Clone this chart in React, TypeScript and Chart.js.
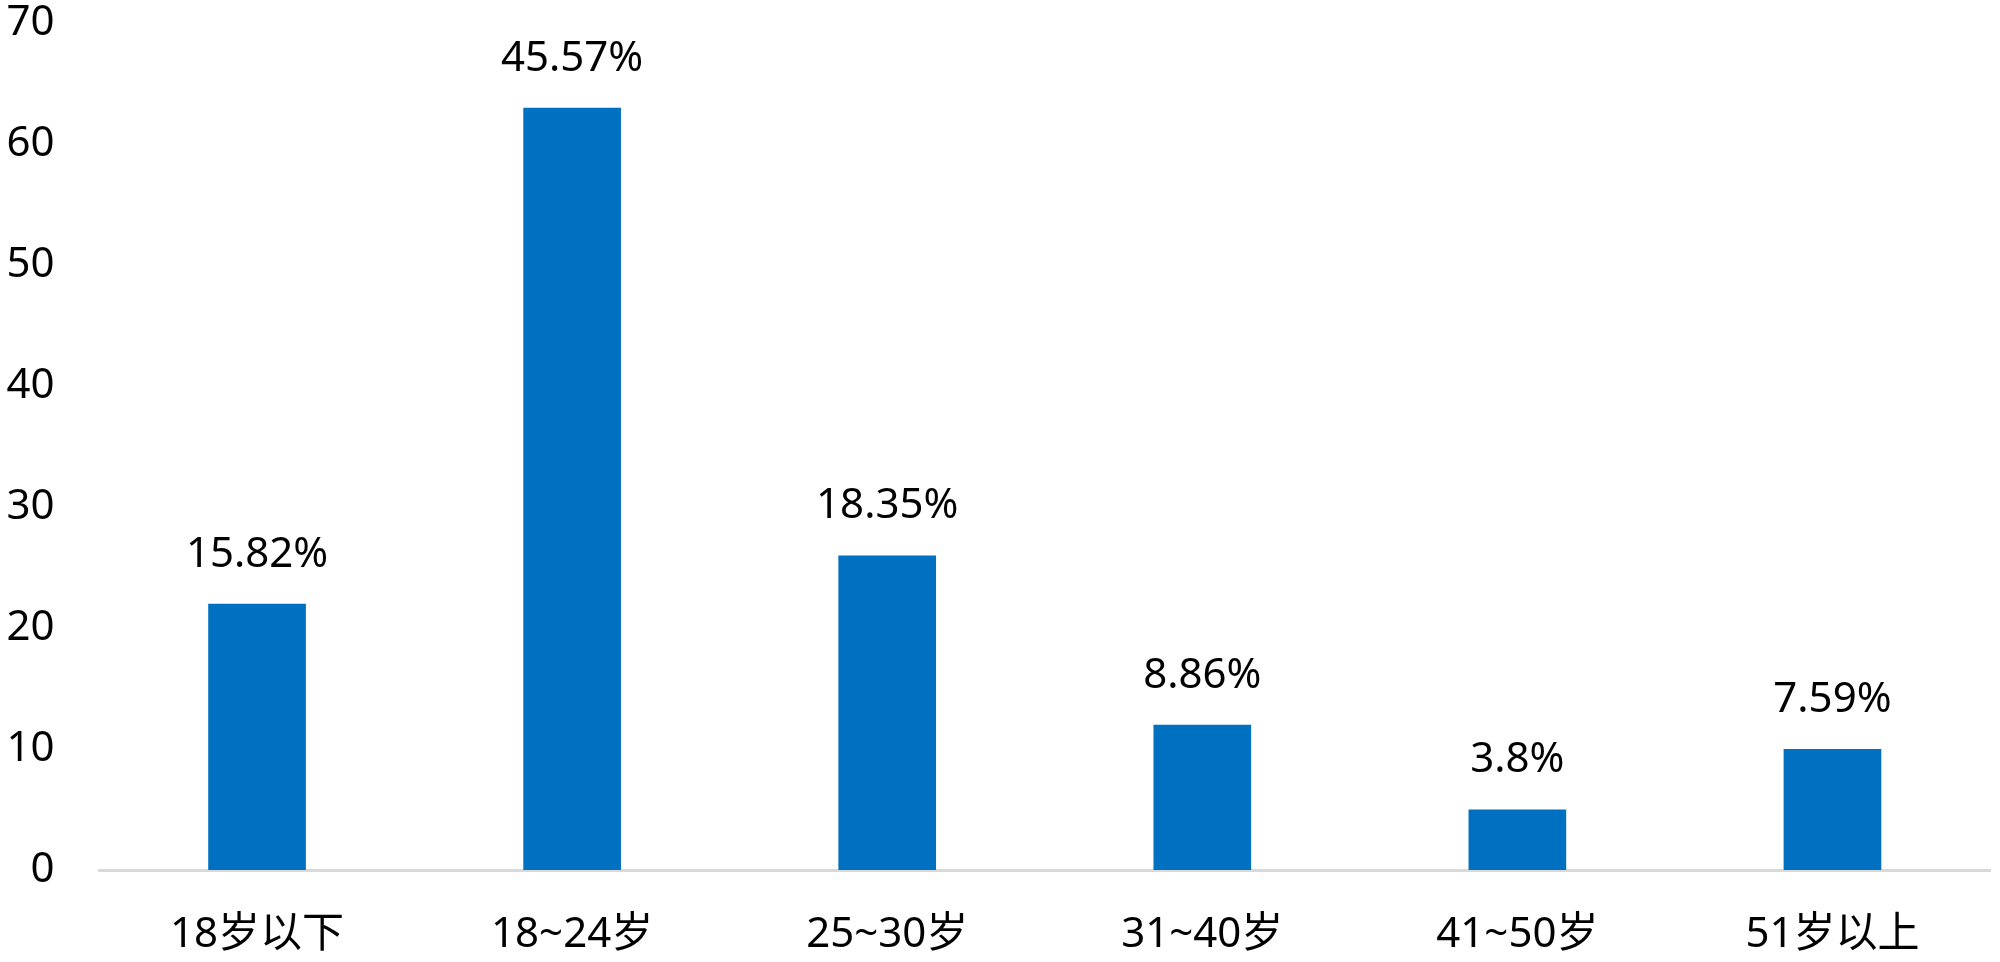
import React, { useEffect, useRef } from "react";
import { Chart, registerables } from "chart.js";

Chart.register(...registerables);

const categories = ["18岁以下", "18~24岁", "25~30岁", "31~40岁", "41~50岁", "51岁以上"];
const counts = [22, 63, 26, 12, 5, 10];
const percentLabels = ["15.82%", "45.57%", "18.35%", "8.86%", "3.8%", "7.59%"];
const yTicks = [0, 10, 20, 30, 40, 50, 60, 70];

const FONT = "'Noto Sans', 'Noto Sans CJK SC', sans-serif";

const percentPlugin = {
  id: "percentLabels",
  afterDatasetsDraw(chart: any) {
    const ctx = chart.ctx;
    const meta = chart.getDatasetMeta(0);
    ctx.save();
    ctx.font = `42px ${FONT}`;
    ctx.fillStyle = "#000000";
    ctx.textAlign = "center";
    ctx.textBaseline = "middle";
    meta.data.forEach((bar: any, i: number) => {
      ctx.fillText(percentLabels[i], bar.x, bar.y - 49);
    });
    ctx.restore();
  },
};

export default function App() {
  const ref = useRef<HTMLCanvasElement | null>(null);
  useEffect(() => {
    if (!ref.current) return;
    const chart = new Chart(ref.current, {
      type: "bar",
      data: {
        labels: categories,
        datasets: [
          {
            data: counts,
            backgroundColor: "#0070C0",
            borderWidth: 0,
            barPercentage: 0.31,
            categoryPercentage: 1,
          },
        ],
      },
      options: {
        animation: false,
        responsive: false,
        maintainAspectRatio: false,
        layout: { padding: { top: 23, right: 10, left: 0, bottom: 0 } },
        plugins: { legend: { display: false }, tooltip: { enabled: false } },
        scales: {
          x: {
            grid: { display: false, drawTicks: false },
            border: { display: true, color: "#d9d9d9", width: 3 },
            ticks: { color: "#000", font: { family: FONT, size: 42 }, padding: 40, maxRotation: 0 },
            afterFit: (s: any) => {
              s.height = 92;
              s.paddingLeft = 0;
              s.paddingRight = 0;
              s.paddingTop = 0;
              s.paddingBottom = 0;
            },
          },
          y: {
            min: 0,
            max: 70,
            afterBuildTicks: (s: any) => {
              s.ticks = yTicks.map((v) => ({ value: v }));
            },
            grid: { display: false, drawTicks: false },
            border: { display: false },
            ticks: { color: "#000", font: { family: FONT, size: 42 }, padding: 45 },
            afterFit: (s: any) => {
              s.width = 99.5;
              s.paddingTop = 0;
              s.paddingBottom = 0;
              s.paddingLeft = 0;
              s.paddingRight = 0;
            },
          },
        },
      },
      plugins: [percentPlugin],
    });
    return () => chart.destroy();
  }, []);
  return (
    <div style={{ position: "fixed", left: 0, top: 0, width: 2000, height: 962, background: "#fff" }}>
      <canvas ref={ref} width={2000} height={962} style={{ width: 2000, height: 962, display: "block" }} />
    </div>
  );
}
